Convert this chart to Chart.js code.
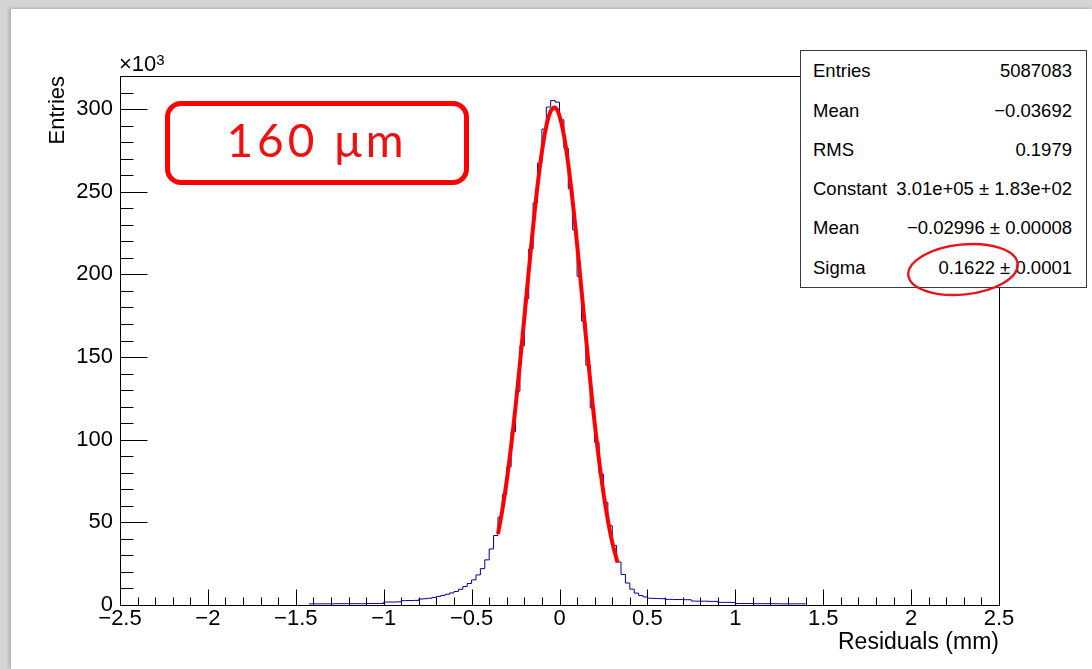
<!DOCTYPE html>
<html>
<head>
<meta charset="utf-8">
<script src="https://cdn.jsdelivr.net/npm/chart.js@4.4.1/dist/chart.umd.min.js"></script>
<style>
  html, body { margin:0; padding:0; width:1092px; height:669px; overflow:hidden; background:#d4d4d4; }
  #card { position:absolute; left:11px; top:9px; width:1081px; height:660px; background:#fff;
          box-shadow:-2px -1px 3px rgba(0,0,0,0.18); }
  #c { position:absolute; left:0; top:0; }
  .stats { position:absolute; left:800px; top:50px; width:285px; height:236px; border:1px solid #3a3a3a;
           background:#fff; font-family:"Liberation Sans", Arial, sans-serif; font-size:18.5px; color:#000; }
  .row { position:absolute; left:12px; right:14px; height:20px; line-height:20px; white-space:nowrap; }
  .row .l { position:absolute; left:0; top:0; }
  .row .r { position:absolute; right:0; top:0; }
  .mult { position:absolute; left:119px; top:53px; font-family:"Liberation Sans", Arial, sans-serif;
          font-size:22px; line-height:22px; color:#000; white-space:nowrap; }
  .mult sup { font-size:15px; position:relative; top:-4px; vertical-align:top; }
  .note { position:absolute; left:165px; top:101px; width:304px; height:84px; box-sizing:border-box;
          border:5.5px solid #ff0000; border-radius:16px; display:flex; align-items:center; justify-content:center;
          font-family:"Lato", "Noto Sans", sans-serif; font-weight:400; font-size:46px; color:#f01010;
          letter-spacing:4px; padding-bottom:8px; }
  svg.ov { position:absolute; left:0; top:0; pointer-events:none; }
</style>
</head>
<body>
<div id="card"></div>
<canvas id="c" width="1092" height="669"></canvas>
<div class="mult">×10<sup>3</sup></div>
<div class="note">160 μm</div>
<div class="stats" id="stats"></div>
<svg class="ov" width="1092" height="669">
  <ellipse cx="963" cy="269.5" rx="55" ry="25" fill="none" stroke="#e8141c" stroke-width="2.4"
           transform="rotate(-6 963 269.5)"/>
</svg>
<script>
// ---- data (counts in thousands of entries) ----
const binStart = -1.425;      // lower edge of first drawn bin (mm)
const binWidth = 0.025;       // bin width (mm)
const counts = [
  0.7,0.7,0.7,0.7,0.7,0.7,0.8,0.8,0.8,0.8,0.8,0.8,0.8,0.9,0.9,0.9,0.9,
  1.8,1.8,1.8,1.9,
  2.6,2.7,2.7,2.8,
  3.6,3.8,4.1,
  4.6,5.2,5.8,6.5,7.3,8.2,9.5,11.2,13.0,15.2,
  18.2,22.0,27.3,33.9,42.0,53.1,66.8,83.6,104.9,129.3,
  156.8,185.2,215.4,243.2,267.3,287.9,301.2,305.2,304.2,293.5,
  276.4,251.8,227.0,198.8,171.8,145.1,119.2,98.4,79.2,62.1,
  48.0,36.0,26.0,18.5,13.3,9.6,7.2,5.7,4.9,
  4.1,4.0,3.9,3.8,
  3.4,3.4,3.3,3.3,3.2,3.2,
  2.4,2.3,2.3,2.3,2.2,2.2,
  1.6,1.6,1.6,1.5,
  0.9,0.9,0.9,0.9,0.8,0.8,0.8,0.8,0.8,0.8,0.7,0.7,0.7,0.7,0.7,0.7
];
const fitX = [-0.35,-0.325,-0.3,-0.275,-0.25,-0.225,-0.2,-0.175,-0.15,-0.125,-0.1,-0.075,-0.05,-0.025,
              0,0.025,0.05,0.075,0.1,0.125,0.15,0.175,0.2,0.225,0.25,0.275,0.3,0.33];
const fitY = [43.0,57.6,75.3,96.3,120.0,146.1,173.8,201.8,228.9,253.6,274.2,289.7,298.7,300.9,
              295.9,284.2,266.5,244.1,218.3,190.7,162.6,135.4,110.1,87.5,67.8,51.4,38.0,25.7];
const xTickLabels = ['\u22122.5','\u22122','\u22121.5','\u22121','\u22120.5','0','0.5','1','1.5','2','2.5'];
const yTickLabels = ['0','50','100','150','200','250','300'];
const statLabels = ['Entries','Mean','RMS','Constant','Mean','Sigma'];
const statValues = ['5087083','\u22120.03692','0.1979','3.01e+05 \u00b1 1.83e+02','\u22120.02996 \u00b1 0.00008','0.1622 \u00b1 0.0001'];

// ---- stats box ----
const rowTops = [10.4, 49.7, 88.9, 128.2, 167.4, 206.7];
const st = document.getElementById('stats');
statLabels.forEach((l, i) => {
  const r = document.createElement('div');
  r.className = 'row';
  r.style.top = rowTops[i] + 'px';
  const a = document.createElement('span'); a.className = 'l'; a.textContent = l;
  const b = document.createElement('span'); b.className = 'r'; b.textContent = statValues[i];
  r.appendChild(a); r.appendChild(b); st.appendChild(r);
});

// ---- chart ----
// each point holds its bin's content from its lower edge to the next edge
const histPts = counts.map((v, i) => ({ x: binStart + i * binWidth, y: v }));
histPts.push({ x: binStart + counts.length * binWidth, y: counts[counts.length - 1] });
const fitPts = fitX.map((x, i) => ({ x: x, y: fitY[i] }));

const FONT = '"Liberation Sans", Arial, sans-serif';

const rootFrame = {
  id: 'rootFrame',
  beforeDatasetsDraw(chart) {
    const { ctx, chartArea: a, scales: { x, y } } = chart;
    const L = Math.round(a.left) + 0.5, R = Math.round(a.right) + 0.5;
    const T = Math.round(a.top) + 0.5, B = Math.round(a.bottom) + 0.5;
    ctx.save();
    ctx.strokeStyle = '#000';
    ctx.lineWidth = 1;
    ctx.beginPath();
    ctx.moveTo(L, T); ctx.lineTo(R, T); ctx.lineTo(R, B);
    for (let i = -25; i <= 25; i++) {
      const px = Math.round(x.getPixelForValue(i / 10)) + 0.5;
      const len = (i % 5 === 0) ? 16 : 8;
      ctx.moveTo(px, B); ctx.lineTo(px, B - len);
    }
    for (let j = 0; j <= 32; j++) {
      const py = Math.round(y.getPixelForValue(j * 10)) + 0.5;
      const len = (j % 5 === 0) ? 27 : 13;
      ctx.moveTo(L, py); ctx.lineTo(L + len, py);
    }
    ctx.stroke();
    ctx.restore();
  }
};

new Chart(document.getElementById('c'), {
  type: 'line',
  data: {
    datasets: [
      { data: fitPts, borderColor: '#ff0000', borderWidth: 4, pointRadius: 0, tension: 0.4, fill: false },
      { data: histPts, borderColor: '#000099', borderWidth: 1, pointRadius: 0, stepped: 'before', fill: false }
    ]
  },
  options: {
    responsive: false,
    animation: false,
    devicePixelRatio: 1,
    layout: { padding: { left: 0, top: 76, right: 93, bottom: 0 } },
    plugins: { legend: { display: false }, tooltip: { enabled: false } },
    scales: {
      x: {
        type: 'linear', min: -2.5, max: 2.5,
        grid: { display: false, drawTicks: false },
        border: { display: true, color: '#000', width: 1 },
        ticks: { stepSize: 0.5, includeBounds: false, autoSkip: false, maxRotation: 0, padding: 1,
                 color: '#000', font: { family: FONT, size: 22 },
                 callback: (v, i) => xTickLabels[i] },
        title: { display: true, text: 'Residuals (mm)', align: 'end', color: '#000',
                 font: { family: FONT, size: 23 }, padding: { top: 0, bottom: 13 } },
        afterFit: s => { s.height = 64; }
      },
      y: {
        type: 'linear', min: 0, max: 320,
        grid: { display: false, drawTicks: false },
        border: { display: true, color: '#000', width: 1 },
        ticks: { stepSize: 50, includeBounds: false, autoSkip: false, padding: 7,
                 color: '#000', font: { family: FONT, size: 22 },
                 callback: (v, i) => yTickLabels[i] },
        title: { display: true, text: 'Entries', align: 'end', color: '#000',
                 font: { family: FONT, size: 22 }, padding: { top: 45, bottom: 0 } },
        afterFit: s => { s.width = 120; }
      }
    }
  },
  plugins: [rootFrame]
});
</script>
</body>
</html>
